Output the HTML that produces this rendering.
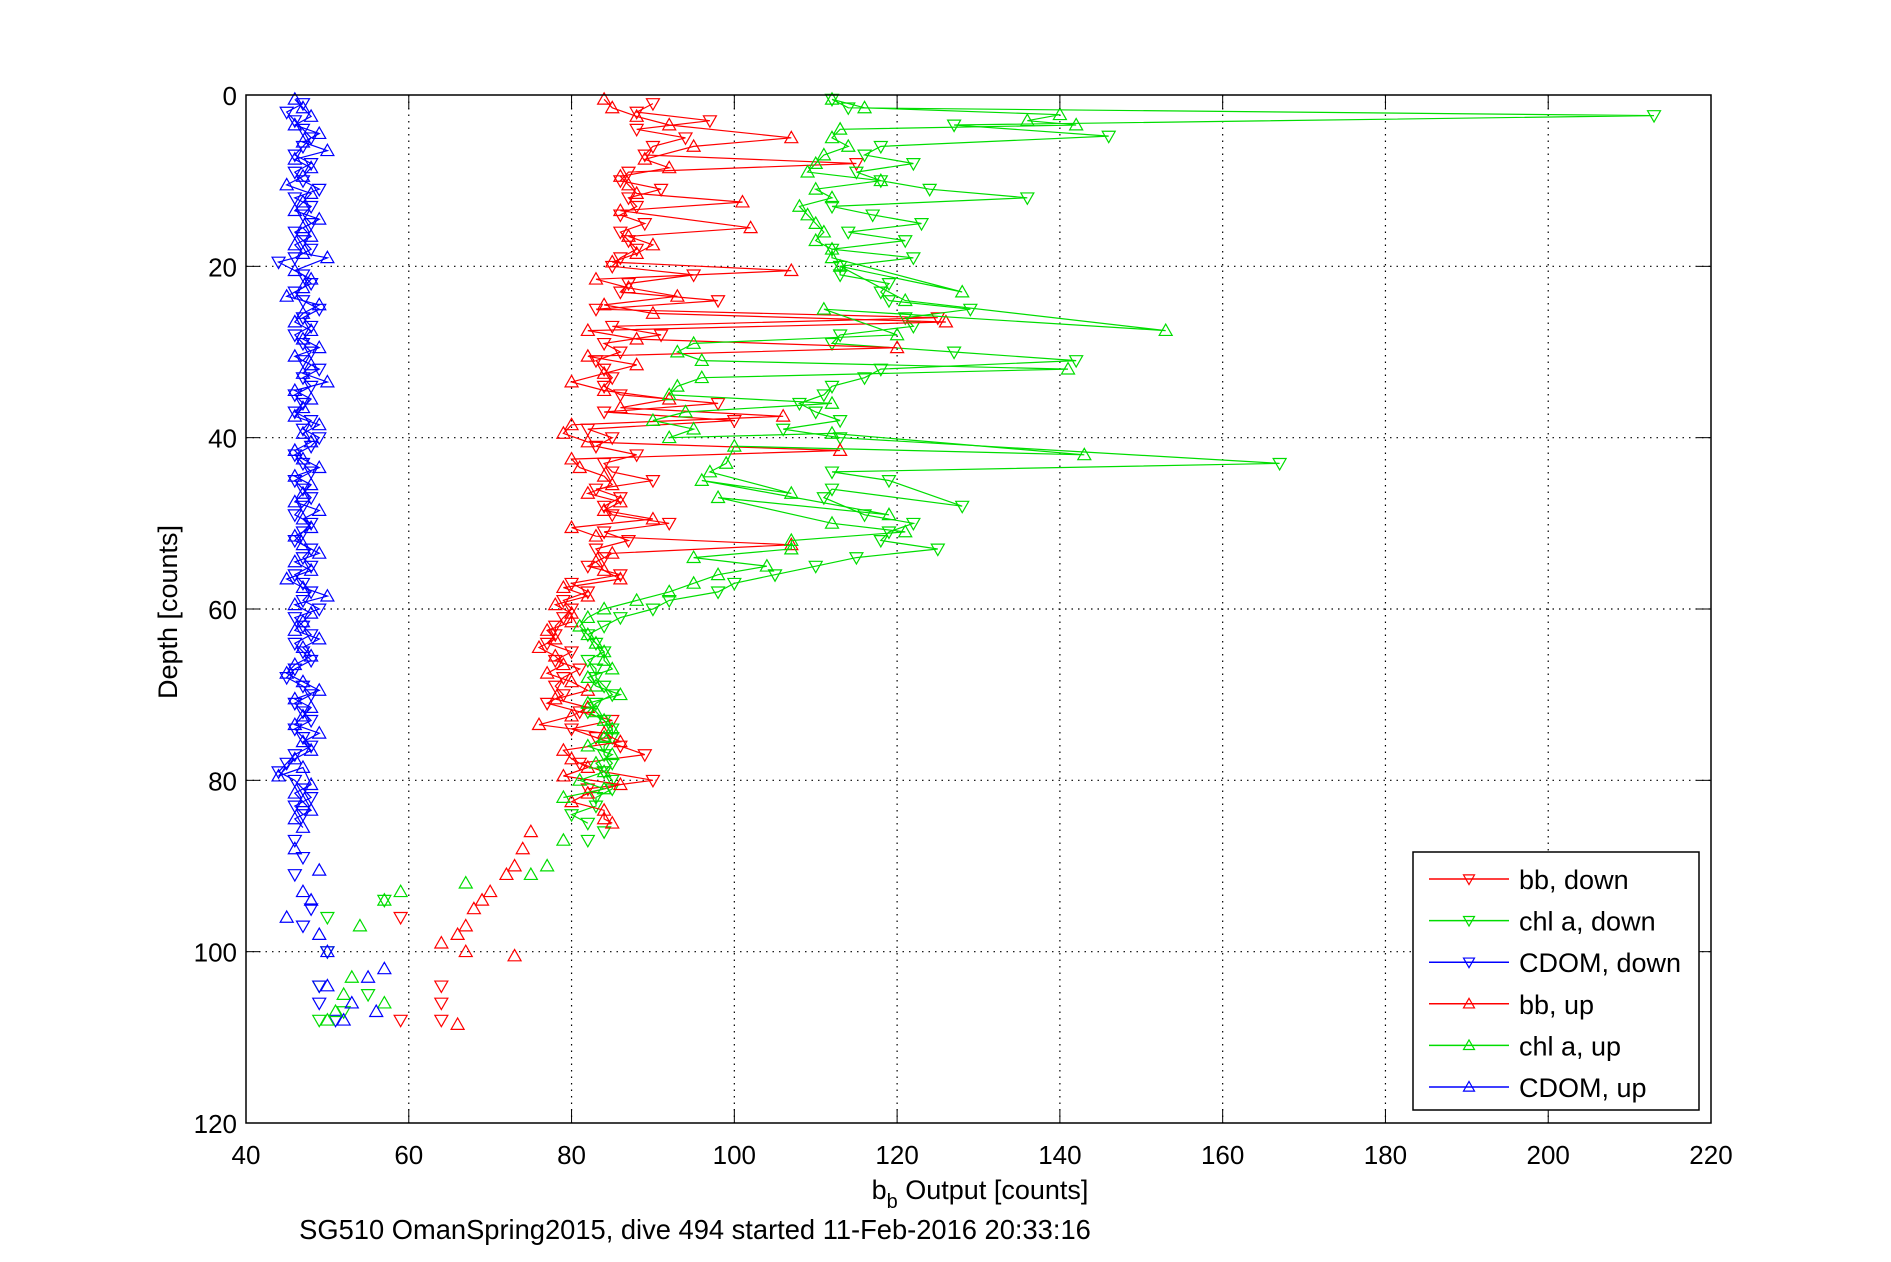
<!DOCTYPE html>
<html><head><meta charset="utf-8"><style>
html,body{margin:0;padding:0;background:#fff;}
svg{display:block;font-family:"Liberation Sans",sans-serif;}
</style></head><body>
<svg id="chart" width="1891" height="1262" viewBox="0 0 1891 1262" xmlns="http://www.w3.org/2000/svg">
<rect width="1891" height="1262" fill="#fff"/>
<g id="grid"></g>
<g id="series"></g>
<rect x="246" y="95" width="1465" height="1028" fill="none" stroke="#000" stroke-width="1.5"/>
<g id="ticks" font-size="26"></g>
<text x="980" y="1199" font-size="27" text-anchor="middle">b<tspan font-size="20" dy="9">b</tspan><tspan dy="-9"> Output [counts]</tspan></text>
<text transform="translate(177,612) rotate(-90)" font-size="27" text-anchor="middle">Depth [counts]</text>
<text x="695" y="1239" font-size="27.3" text-anchor="middle">SG510 OmanSpring2015, dive 494 started 11-Feb-2016 20:33:16</text>
<g id="legend"></g>
</svg>
<script>
const xTicks=[40,60,80,100,120,140,160,180,200,220];
const yTicks=[0,20,40,60,80,100,120];
const seriesNames=["bb, down","chl a, down","CDOM, down","bb, up","chl a, up","CDOM, up"];
const seriesColors=["#ff0000","#00dd00","#0000ff","#ff0000","#00dd00","#0000ff"];
const seriesDown=[true,true,true,false,false,false];
const bbDownX=[90,88,97,88,94,90,89,115,87,86,91,87,88,86,89,86,87,88,86,85,95,87,86,98,83,125,85,91,84,86,83,84,85,84,86,98,84,100,82,85,83,88,84,85,90,83,86,84,85,92,84,87,83,84,82,86,80,82,79,80,79,78,78,77,80,78,81,79,78,79,77,81,85,80,83,86,89,81,84,90,82,59,64,64,64,59];
const bbDownD=[1,2,3,4,5,6,7,8,9,10,11,12,13,14,15,16,17,18,19,20,21,22,23,24,25,26,27,28,29,30,31,32,33,34,35,36,37,38,39,40,41,42,43,44,45,46,47,48,49,50,51,52,53,54,55,56,57,58,59,60,61,62,63,64,65,66,67,68,69,70,71,72,73,74,75,76,77,78,79,80,81,96,104,106,108,108];
const chlDownX=[112,114,213,127,146,118,116,122,115,118,124,136,112,117,123,114,121,112,122,113,113,119,118,119,129,121,122,113,112,127,142,118,116,112,111,108,110,113,106,113,167,112,119,128,112,111,116,122,119,118,125,115,110,105,100,98,92,90,86,84,82,83,84,82,83,83,84,85,83,82,84,85,85,84,84,85,84,85,85,83,83,80,82,84,82,57,50,50,49,55,52,49];
const chlDownD=[0.5,1.5,2.4,3.5,4.8,6,7,8,9,10,11,12,13,14,15,16,17,18,19,20,21,22,23,24,25,26,27,28,29,30,31,32,33,34,35,36,37,38,39,40,43,44,45,48,46,47,49,50,51,52,53,54,55,56,57,58,59,60,61,62,63,64,65,66,67,68,69,70,71,72,73,74,75,76,77,78,79,80,81,82,83,84,85,86,87,94,96,100,104,105,107,108];
const cdomDownX=[47,45,46,47,48,47,46,48,46,47,49,46,48,47,48,46,47,48,46,44,47,48,46,47,49,47,48,46,47,48,47,49,47,48,46,47,46,48,47,49,48,46,47,48,46,47,48,47,46,48,47,46,48,47,48,46,47,48,47,49,46,47,48,46,47,48,46,45,47,48,46,47,48,46,47,48,46,45,44,46,47,48,46,47,46,47,46,48,47,50,49,51,49];
const cdomDownD=[1,2,3,4,5,6,7,8,9,10,11,12,13,14,15,16,17,18,19,19.5,21,22,23,24,25,26,27,28,29,30,31,32,33,34,35,36,37,38,39,40,41,42,43,44,45,46,47,48,49,50,51,52,53,54,55,56,57,58,59,60,61,62,63,64,65,66,67,68,69,70,71,72,73,74,75,76,77,78,79,80,81,82,83,84,87,89,91,95,97,100,104,108,106];
const bbUpX=[84,85,88,92,107,95,89,92,86,87,88,101,86,102,87,90,88,85,107,83,87,93,84,90,126,82,88,120,82,88,84,80,84,92,86,106,80,79,82,113,80,81,84,85,82,86,84,90,80,83,107,85,83,84,86,79,82,78,80,80,77,78,76,78,79,77,80,82,78,82,80,76,84,86,79,80,82,79,86,82,80,84,84,85,75,74,73,72,70,69,68,67,66,64,67,73,66];
const bbUpD=[0.5,1.5,2.5,3.5,5,6,7.5,8.5,9.5,10.5,11.5,12.5,13.5,15.5,16.5,17.5,18.5,19.5,20.5,21.5,22.5,23.5,24.5,25.5,26.5,27.5,28.5,29.5,30.5,31.5,32.5,33.5,34.5,35.5,36.5,37.5,38.5,39.5,40.5,41.5,42.5,43.5,44.5,45.5,46.5,47.5,48.5,49.5,50.5,51.5,52.5,53.5,54.5,55.5,56.5,57.5,58.5,59.5,60.5,61.5,62.5,63.5,64.5,65.5,66.5,67.5,68.5,69.5,70.5,71.5,72.5,73.5,74.5,75.5,76.5,77.5,78.5,79.5,80.5,81.5,82.5,83.5,84.5,85,86,88,90,91,93,94,95,97,98,99,100,100.5,108.5];
const chlUpX=[112,116,140,136,142,113,112,114,111,110,109,118,110,112,108,109,110,111,110,112,112,128,113,121,153,111,120,95,93,96,141,96,93,92,112,94,90,95,92,112,143,100,99,97,107,96,119,98,112,121,107,107,95,104,98,95,92,88,84,82,81,82,83,84,84,85,82,83,86,82,83,84,85,84,82,85,83,84,81,84,79,79,77,75,67,59,57,54,53,52,51,50,57];
const chlUpD=[0.5,1.5,2.3,3,3.5,4,5,6,7,8,9,10,11,12,13,14,15,16,17,18,19,23,20,24,27.5,25,28,29,30,31,32,33,34,35,36,37,38,39,40,39.5,42,41,43,44,46.5,45,49,47,50,51,52,53,54,55,56,57,58,59,60,61,62,63,64,65,66,67,68,69,70,71,72,73,74,75,76,77,78,79,80,81,82,87,90,91,92,93,94,97,103,105,107,108,106];
const cdomUpX=[46,47,48,46,49,47,50,46,48,47,45,48,47,46,49,47,48,46,47,50,46,48,47,45,49,47,46,48,47,49,46,48,47,50,46,48,47,46,49,47,48,46,47,49,46,48,47,46,49,47,48,46,47,49,46,48,45,47,50,46,48,47,46,49,47,48,46,45,47,49,46,48,47,46,49,47,48,46,44,47,48,46,47,48,46,47,46,49,47,48,45,49,50,50,53,57,55,52,56];
const cdomUpD=[0.5,1.5,2.5,3.5,4.5,5.5,6.5,7.5,8.5,9.5,10.5,11.5,12.5,13.5,14.5,15.5,16.5,17.5,18.5,19,20.5,21.5,22.5,23.5,24.5,25.5,26.5,27.5,28.5,29.5,30.5,31.5,32.5,33.5,34.5,35.5,36.5,37.5,38.5,39.5,40.5,41.5,42.5,43.5,44.5,45.5,46.5,47.5,48.5,49.5,50.5,51.5,52.5,53.5,54.5,55.5,56.5,57.5,58.5,59.5,60.5,61.5,62.5,63.5,64.5,65.5,66.5,67.5,68.5,69.5,70.5,71.5,72.5,73.5,74.5,75.5,76.5,77.5,79.5,78.5,80.5,81.5,82.5,83.5,84.5,85.5,88,90.5,93,94,96,98,100,104,106,102,103,108,107];
const seriesX=[bbDownX,chlDownX,cdomDownX,bbUpX,chlUpX,cdomUpX];
const seriesD=[bbDownD,chlDownD,cdomDownD,bbUpD,chlUpD,cdomUpD];

const L=246,R=1711,T=95,B=1123,NS="http://www.w3.org/2000/svg";
const xs=v=>L+(v-40)/180*(R-L);
const ys=v=>T+v/120*(B-T);
function mk(t,a,p){const e=document.createElementNS(NS,t);for(const k in a)e.setAttribute(k,a[k]);p.appendChild(e);return e;}
const grid=document.getElementById('grid'),ticks=document.getElementById('ticks');
xTicks.forEach(v=>{const x=xs(v);
 if(v>40&&v<220){const g=mk('line',{x1:x,x2:x,y1:T,y2:B,stroke:'#000','stroke-dasharray':'1.5,5','stroke-width':1.2},grid);
 
 }
 mk('line',{x1:x,x2:x,y1:B,y2:B-14,stroke:'#000'},ticks);
 mk('line',{x1:x,x2:x,y1:T,y2:T+14,stroke:'#000'},ticks);
 const t=mk('text',{x:x,y:B+41,'text-anchor':'middle'},ticks);t.textContent=v;
 
 });
yTicks.forEach(v=>{const y=ys(v);
 if(v>0&&v<120){const g=mk('line',{x1:L,x2:R,y1:y,y2:y,stroke:'#000','stroke-dasharray':'1.5,5','stroke-width':1.2},grid);
 
 }
 mk('line',{x1:L,x2:L+14,y1:y,y2:y,stroke:'#000'},ticks);
 mk('line',{x1:R,x2:R-14,y1:y,y2:y,stroke:'#000'},ticks);
 const t=mk('text',{x:L-9,y:y+10,'text-anchor':'end'},ticks);t.textContent=v;
 
 });
function tri(cx,cy,down,s){return down?`M${cx-s},${cy-s*0.75}L${cx+s},${cy-s*0.75}L${cx},${cy+s}Z`:`M${cx-s},${cy+s*0.75}L${cx+s},${cy+s*0.75}L${cx},${cy-s}Z`;}
const sg=document.getElementById('series');
seriesX.forEach((xa,i)=>{
 const g=mk('g',{},sg);
 
 
 const c=seriesColors[i],d=seriesD[i];
 const n=Math.min(xa.length,d.length);
 const pts=[];for(let k=0;k<n;k++){if(d[k]<=85.5)pts.push(xs(xa[k]).toFixed(1)+','+ys(d[k]).toFixed(1));}
 mk('polyline',{points:pts.join(' '),fill:'none',stroke:c,'stroke-width':1.2},g);
 let p='';for(let k=0;k<n;k++)p+=tri(xs(xa[k]),ys(d[k]),seriesDown[i],6.5);
 const m=mk('path',{d:p,fill:'none',stroke:c,'stroke-width':1.2},g);
 
 
});
const lg=document.getElementById('legend');
mk('rect',{x:1413,y:852,width:286,height:258,fill:'#fff',stroke:'#000','stroke-width':1.5},lg);
seriesNames.forEach((nm,i)=>{const y=879+i*41.6;
 const e=mk('g',{},lg);
 
 
 mk('line',{x1:1429,x2:1509,y1:y,y2:y,stroke:seriesColors[i],'stroke-width':1.5},e);
 mk('path',{d:tri(1469,y,seriesDown[i],5.5),fill:'none',stroke:seriesColors[i],'stroke-width':1.2},e);
 const t=mk('text',{x:1519,y:y+10,'font-size':27},e);t.textContent=nm;});
</script>
</body></html>
